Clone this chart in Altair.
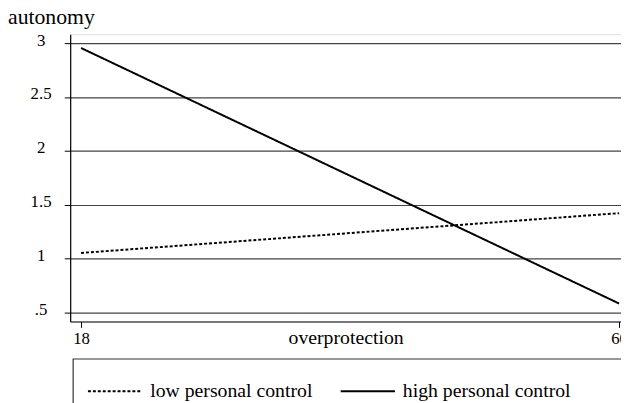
import altair as alt
import pandas as pd

overprotection = [18, 60, 18, 60]
autonomy = [1.05, 1.42, 2.955, 0.58]
group = ["low personal control", "low personal control",
         "high personal control", "high personal control"]
groups = ["low personal control", "high personal control"]
y_ticks = [0.5, 1, 1.5, 2, 2.5, 3]
x_ticks = [18, 60]

df = pd.DataFrame({"overprotection": overprotection, "autonomy": autonomy, "group": group})

FONT = "Liberation Serif"

lines = alt.Chart(df).mark_line(color="black", strokeWidth=2, clip=False).encode(
    x=alt.X("overprotection:Q",
            scale=alt.Scale(domain=[17.15, 60.15], nice=False, zero=False),
            axis=alt.Axis(values=x_ticks, grid=False, title="overprotection",
                          titleY=22, titleBaseline="alphabetic", titleFontWeight="normal",
                          titleFontSize=20, titleFont=FONT, titleColor="black",
                          labelFont=FONT, labelFontSize=17, labelColor="black",
                          labelPadding=3, tickSize=6, tickColor="black",
                          domainColor="black", domainWidth=1.2)),
    y=alt.Y("autonomy:Q",
            scale=alt.Scale(domain=[0.413, 3.083], nice=False, zero=False),
            axis=alt.Axis(values=y_ticks, format=".1~f",
                          labelExpr="datum.value < 1 ? substring(datum.label, 1) : datum.label",
                          grid=True, gridColor="#444444", gridWidth=1.2,
                          title=None, labelFont=FONT, labelFontSize=17, labelColor="black",
                          labelAlign="center", labelPadding=24, labelOffset=-3, tickSize=6,
                          tickColor="black", domainColor="black", domainWidth=1.2)),
    strokeDash=alt.StrokeDash("group:N",
                              scale=alt.Scale(domain=groups, range=[[3, 2], [1, 0]]),
                              legend=alt.Legend(orient="none", legendX=17, legendY=333,
                                                direction="horizontal", columns=2,
                                                title=None, symbolType="stroke",
                                                symbolSize=3025, symbolStrokeWidth=2,
                                                symbolStrokeColor="black",
                                                labelFont=FONT, labelFontSize=20,
                                                labelLimit=400,
                                                labelColor="black", labelOffset=7,
                                                columnPadding=24, padding=0)),
    detail="group:N",
)

box = alt.Chart(pd.DataFrame({"a": [0]})).mark_rect(
    fill="white", stroke="#333333", strokeWidth=1.2, clip=False
).encode(
    x=alt.value(3), x2=alt.value(700), y=alt.value(329), y2=alt.value(450)
)

chart = alt.layer(box, lines).properties(
    width=558, height=291,
    title=alt.TitleParams("autonomy", anchor="start", frame="group", font=FONT,
                          fontSize=22, fontWeight="normal", color="black",
                          dx=-63, dy=3, offset=5),
    autosize=alt.AutoSizeParams(type="none"),
    padding={"left": 63, "top": 24, "right": 0, "bottom": 80},
).configure_view(stroke=None).configure(background="white")

chart.save("out.html", embed_options={"renderer": "svg", "actions": False})
